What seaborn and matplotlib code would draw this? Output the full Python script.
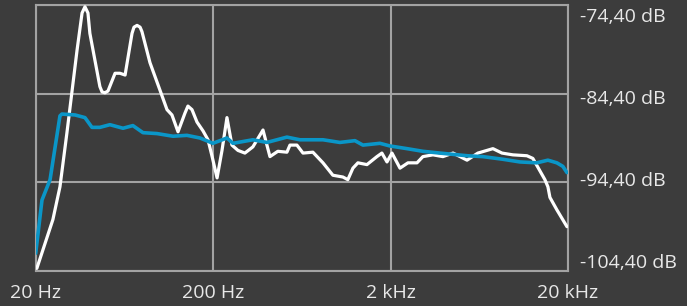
import matplotlib
matplotlib.use("Agg")
import matplotlib.pyplot as plt
import seaborn as sns
import pandas as pd

# White measured response (Hz, dB)
white_freq = [20.3, 25.0, 27.4, 30.0, 34.2, 36.5, 37.9, 39.4, 40.4, 46.0, 47.3, 49.1, 51.1,
              56.0, 59.7, 63.8, 69.8, 71.6, 74.5, 77.5, 79.4, 88.1, 100.3, 109.9, 117.2,
              126.8, 138.7, 144.2, 152.0, 162.2, 175.4, 187.1, 197.4, 210.5, 224.4, 239.3,
              255.2, 276, 302, 335, 382, 418, 463, 521, 542, 593, 642, 730, 832, 946,
              1077, 1149, 1227, 1309, 1472, 1675, 1787, 1909, 2037, 2260, 2507, 2818,
              3042, 3466, 3945, 4498, 5395, 6211, 7550, 8490, 9780, 11730, 12670, 13530,
              14820, 15410, 15820, 17310, 19730]
white_db = [-104.1, -98.6, -94.9, -88.8, -79.5, -75.3, -74.6, -75.3, -77.6, -83.6, -84.2,
            -84.3, -84.1, -82.1, -82.1, -82.3, -77.6, -76.9, -76.7, -76.9, -77.4, -80.9,
            -84.0, -86.2, -86.8, -88.7, -86.6, -85.8, -86.2, -87.6, -88.6, -89.6, -91.5,
            -93.9, -90.8, -87.1, -90.2, -90.8, -91.1, -90.4, -88.5, -91.5, -90.9, -91.0,
            -90.2, -90.2, -91.1, -91.0, -92.2, -93.6, -93.8, -94.1, -92.8, -92.2, -92.4,
            -91.5, -91.1, -92.1, -91.1, -92.8, -92.2, -92.2, -91.5, -91.3, -91.5, -91.1,
            -91.9, -91.1, -90.6, -91.1, -91.3, -91.4, -91.7, -92.7, -94.1, -94.9, -96.1,
            -97.5, -99.4]

# Blue reference response (Hz, dB)
blue_freq = [20.0, 21.7, 24.1, 27.4, 28.1, 33.3, 37.9, 41.5, 46.0, 52.4, 62.1, 70.6,
             80.5, 96.5, 118.8, 142.3, 168.6, 199.5, 239.3, 258.8, 335, 402, 521, 617,
             832, 1036, 1259, 1397, 1742, 1986, 2474, 3042, 3795, 5395, 6626, 8600,
             10710, 13360, 15410, 17310, 18710, 19730]
blue_db = [-102.4, -96.4, -94.1, -86.9, -86.7, -86.8, -87.1, -88.2, -88.2, -87.9, -88.3,
           -88.0, -88.8, -88.9, -89.2, -89.1, -89.4, -90.0, -89.4, -90.0, -89.6, -89.9,
           -89.3, -89.6, -89.6, -89.9, -89.7, -90.2, -90.0, -90.3, -90.6, -90.9, -91.1,
           -91.4, -91.5, -91.8, -92.1, -92.2, -91.9, -92.2, -92.6, -93.3]

x_ticks = [20, 200, 2000, 20000]
x_labels = ["20 Hz", "200 Hz", "2 kHz", "20 kHz"]
y_ticks = [-74.4, -84.4, -94.4, -104.4]
y_labels = ["-74,40 dB", "-84,40 dB", "-94,40 dB", "-104,40 dB"]

bg = "#3c3c3c"
gridc = "#a3a3a3"
textc = "#e8e8e8"
blue = "#0a96c8"

sns.set_theme(style="dark")
plt.rcParams["font.family"] = ["Open Sans", "DejaVu Sans"]

fig = plt.figure(figsize=(6.87, 3.06), dpi=100, facecolor=bg)
ax = fig.add_axes([35.7 / 687, 35 / 306, (568 - 35.7) / 687, 266 / 306])
ax.set_facecolor(bg)

wdf = pd.DataFrame({"f": white_freq, "db": white_db})
bdf = pd.DataFrame({"f": blue_freq, "db": blue_db})
sns.lineplot(data=wdf, x="f", y="db", ax=ax, color="white", lw=2.3, zorder=3)
sns.lineplot(data=bdf, x="f", y="db", ax=ax, color=blue, lw=2.6, zorder=4)

ax.set_xscale("log")
ax.set_xlim(20, 20000)
ax.set_ylim(-104.4, -74.4)
ax.set_xticks(x_ticks)
ax.set_xticklabels(x_labels)
ax.minorticks_off()
ax.set_yticks(y_ticks)
ax.set_yticklabels([])
ax.tick_params(axis="x", length=0, pad=9, labelsize=14, colors=textc)
ax.tick_params(axis="y", length=0)
ax.grid(True, color=gridc, lw=1.5)
for s in ax.spines.values():
    s.set_visible(True)
    s.set_color(gridc)
    s.set_linewidth(1.5)
ax.set_xlabel("")
ax.set_ylabel("")

fr = [(271 - 17.5) / 266, (271 - 99.5) / 266, (271 - 181.5) / 266, (271 - 263.5) / 266]
for f, lab in zip(fr, y_labels):
    ax.text(1.022, f, lab, transform=ax.transAxes, ha="left", va="center",
            fontsize=14, color=textc)

fig.savefig("out.png", dpi=100, facecolor=bg)
